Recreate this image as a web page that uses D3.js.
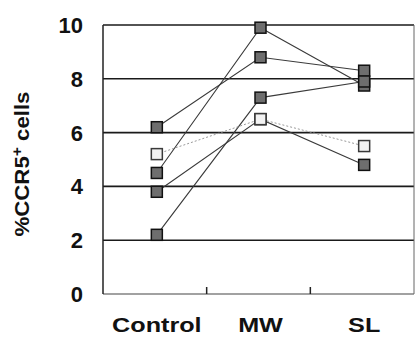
<!DOCTYPE html>
<html>
<head>
<meta charset="utf-8">
<script src="https://cdn.jsdelivr.net/npm/d3@7"></script>
<style>
  body { margin: 0; background: #fff; }
  text { font-family: "Liberation Sans", Arial, sans-serif; font-weight: bold; fill: #111; }
</style>
</head>
<body>
<svg id="chart" width="415" height="337"></svg>
<script>
// groups on the x axis and the y ticks
const groups = ['Control', 'MW', 'SL'];
const yTicks = [0, 2, 4, 6, 8, 10];

// one array per subject: Control, MW, SL
const subjectA = [6.2, 8.8, 8.3];
const subjectB = [5.2, 6.5, 5.5];   // open marker, dotted line
const subjectC = [4.5, 9.9, 7.75];
const subjectD = [3.8, 6.5, 4.8];
const subjectE = [2.2, 7.3, 7.9];

const subjects = [
  { values: subjectA, open: false },
  { values: subjectC, open: false },
  { values: subjectD, open: false },
  { values: subjectE, open: false },
  { values: subjectB, open: true }
];

const svg = d3.select('#chart');
const plotLeft = 103, plotRight = 414, plotTop = 25, plotBottom = 294;

const xBand = d3.scaleBand().domain(groups).range([plotLeft, plotRight]);
const xPos = g => xBand(g) + xBand.bandwidth() / 2 + 2;
const y = d3.scaleLinear().domain([0, 10]).range([plotBottom, plotTop]);

// horizontal grid lines
svg.append('g')
  .selectAll('line')
  .data(yTicks)
  .join('line')
    .attr('x1', plotLeft)
    .attr('x2', plotRight)
    .attr('y1', d => y(d))
    .attr('y2', d => y(d))
    .attr('stroke', d => d === 0 ? '#444' : '#1a1a1a')
    .attr('stroke-width', d => d === 0 ? 1.2 : 1.6);

// frame sides
svg.append('line').attr('x1', plotLeft).attr('x2', plotLeft).attr('y1', plotTop).attr('y2', plotBottom)
  .attr('stroke', '#222').attr('stroke-width', 1.5);
svg.append('line').attr('x1', plotRight).attr('x2', plotRight).attr('y1', plotTop).attr('y2', plotBottom)
  .attr('stroke', '#666').attr('stroke-width', 1);

// bottom axis: ticks between groups, pointing up
const xAxis = svg.append('g')
  .attr('transform', `translate(0,${plotBottom})`)
  .call(d3.axisBottom(xBand).tickSize(-7).tickFormat(''));
xAxis.select('.domain').remove();
xAxis.selectAll('.tick').attr('transform', d => `translate(${xBand(d)},0)`);
xAxis.selectAll('.tick').filter(d => d === groups[0]).remove();
xAxis.selectAll('.tick line').attr('stroke', '#222').attr('stroke-width', 1.5);

// y tick labels
svg.append('g')
  .selectAll('text')
  .data(yTicks)
  .join('text')
    .attr('x', 83)
    .attr('y', d => y(d))
    .attr('dy', '0.36em')
    .attr('text-anchor', 'end')
    .attr('font-size', 22)
    .text(d => d);

// x labels (the original type is wide, so stretch it)
svg.append('g')
  .selectAll('text')
  .data(groups)
  .join('text')
    .attr('transform', d => `translate(${xPos(d)},332) scale(1.2,1)`)
    .attr('text-anchor', 'middle')
    .attr('font-size', 21)
    .text(d => d);

// y title
const yTitle = svg.append('text')
  .attr('transform', 'translate(29,164) rotate(-90)')
  .attr('text-anchor', 'middle')
  .attr('font-size', 20)
  .attr('textLength', 145)
  .attr('lengthAdjust', 'spacingAndGlyphs');
yTitle.append('tspan').text('%CCR5');
yTitle.append('tspan').attr('font-size', 14).attr('dy', -7).text('+');
yTitle.append('tspan').attr('dy', 7).text(' cells');

// subject lines
const line = d3.line()
  .x((d, i) => xPos(groups[i]))
  .y(d => y(d));

svg.append('g')
  .selectAll('path')
  .data(subjects)
  .join('path')
    .attr('d', d => line(d.values))
    .attr('fill', 'none')
    .attr('stroke', d => d.open ? '#9a9a9a' : '#3a3a3a')
    .attr('stroke-width', d => d.open ? 1 : 1.1)
    .attr('stroke-dasharray', d => d.open ? '2,2' : null);

// markers
const size = 11;
subjects.forEach(s => {
  svg.append('g')
    .selectAll('rect')
    .data(s.values)
    .join('rect')
      .attr('x', (d, i) => xPos(groups[i]) - size / 2)
      .attr('y', d => y(d) - size / 2)
      .attr('width', size)
      .attr('height', size)
      .attr('fill', s.open ? '#f2f2f2' : '#6e6e6e')
      .attr('stroke', s.open ? '#3a3a3a' : '#111')
      .attr('stroke-width', 1.5);
});
</script>
</body>
</html>
